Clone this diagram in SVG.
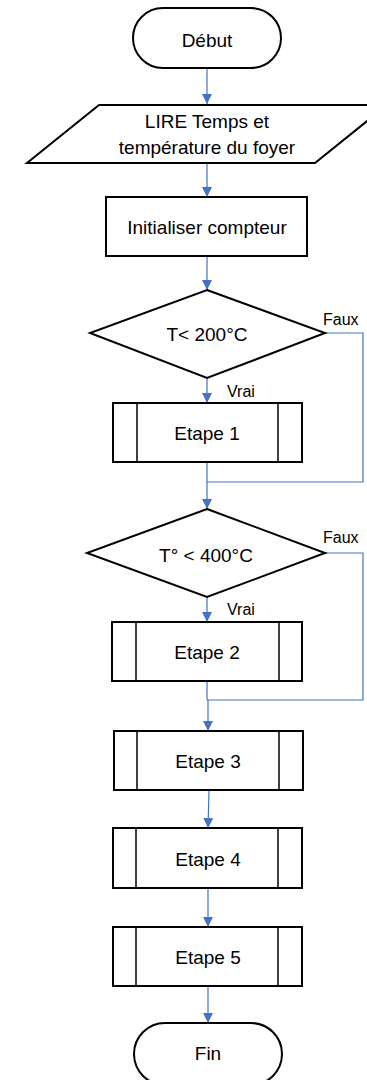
<svg xmlns="http://www.w3.org/2000/svg" width="367" height="1080" viewBox="0 0 367 1080">
<defs>
<marker id="arr" viewBox="0 0 10 10" refX="10" refY="5" markerWidth="10" markerHeight="12" markerUnits="userSpaceOnUse" orient="auto">
<path d="M0,0 L10,5 L0,10 z" fill="#4472C4"/>
</marker>
</defs>
<style>
.s{fill:#fff;stroke:#000;stroke-width:2}
.in{stroke:#000;stroke-width:1.5}
.t{font-family:"Liberation Sans",Arial,sans-serif;font-size:19px;fill:#000;text-anchor:middle}
.l{font-family:"Liberation Sans",Arial,sans-serif;font-size:16px;fill:#000}
.c{fill:none;stroke:#4472C4;stroke-width:1.2}
.ca{fill:none;stroke:#4472C4;stroke-width:1.2;marker-end:url(#arr)}
</style>
<rect width="367" height="1080" fill="#fff"/>
<g id="connectors">
<line class="ca" x1="207" y1="68" x2="207" y2="104"/>
<line class="ca" x1="207" y1="163" x2="207" y2="197"/>
<line class="ca" x1="207" y1="256" x2="207" y2="290"/>
<line class="ca" x1="207" y1="378" x2="207" y2="403"/>
<polyline class="c" points="325,333 363,333 363,482 207,482"/>
<line class="c" x1="207" y1="462" x2="207" y2="482"/>
<line class="ca" x1="207" y1="482" x2="207" y2="509"/>
<line class="ca" x1="207" y1="597" x2="207" y2="622"/>
<polyline class="c" points="325,553 363,553 363,700 207,700"/>
<line class="c" x1="207" y1="681" x2="207" y2="700"/>
<line class="ca" x1="208" y1="700" x2="208" y2="731"/>
<line class="ca" x1="209" y1="790" x2="208" y2="828"/>
<line class="ca" x1="208" y1="888" x2="208" y2="927"/>
<line class="ca" x1="208" y1="986" x2="208" y2="1023"/>
<text class="l" x="323" y="325">Faux</text>
<text class="l" x="227" y="397">Vrai</text>
<text class="l" x="323" y="543">Faux</text>
<text class="l" x="227" y="615">Vrai</text>
</g>
<g id="debut">
<rect class="s" x="133" y="8" width="148" height="60" rx="30" ry="30"/>
<text class="t" x="207" y="47">Début</text>
</g>
<g id="lire">
<polygon class="s" points="99,105 387,105 315,163 27,163"/>
<text class="t" x="207" y="128">LIRE Temps et</text>
<text class="t" x="207" y="154">température du foyer</text>
</g>
<g id="init">
<rect class="s" x="106" y="197" width="201" height="59"/>
<text class="t" x="207" y="234">Initialiser compteur</text>
</g>
<g id="dec1">
<polygon class="s" points="207,290 325,333 207,378 90,333"/>
<text class="t" x="207" y="341">T&lt; 200°C</text>
</g>
<g id="etape1">
<rect class="s" x="113" y="403" width="189" height="59"/>
<line class="in" x1="137" y1="403" x2="137" y2="462"/>
<line class="in" x1="278" y1="403" x2="278" y2="462"/>
<text class="t" x="207" y="440">Etape 1</text>
</g>
<g id="dec2">
<polygon class="s" points="207,509 325,553 207,597 87,553"/>
<text class="t" x="206" y="562">T° &lt; 400°C</text>
</g>
<g id="etape2">
<rect class="s" x="112" y="622" width="190" height="59"/>
<line class="in" x1="136" y1="622" x2="136" y2="681"/>
<line class="in" x1="279" y1="622" x2="279" y2="681"/>
<text class="t" x="207" y="659">Etape 2</text>
</g>
<g id="etape3">
<rect class="s" x="114" y="731" width="189" height="59"/>
<line class="in" x1="137" y1="731" x2="137" y2="790"/>
<line class="in" x1="279" y1="731" x2="279" y2="790"/>
<text class="t" x="208" y="768">Etape 3</text>
</g>
<g id="etape4">
<rect class="s" x="113" y="828" width="189" height="60"/>
<line class="in" x1="136" y1="828" x2="136" y2="888"/>
<line class="in" x1="278" y1="828" x2="278" y2="888"/>
<text class="t" x="208" y="866">Etape 4</text>
</g>
<g id="etape5">
<rect class="s" x="113" y="927" width="189" height="59"/>
<line class="in" x1="136" y1="927" x2="136" y2="986"/>
<line class="in" x1="278" y1="927" x2="278" y2="986"/>
<text class="t" x="208" y="964">Etape 5</text>
</g>
<g id="fin">
<rect class="s" x="134" y="1023" width="148" height="62" rx="31" ry="31"/>
<text class="t" x="208" y="1060">Fin</text>
</g>
</svg>
